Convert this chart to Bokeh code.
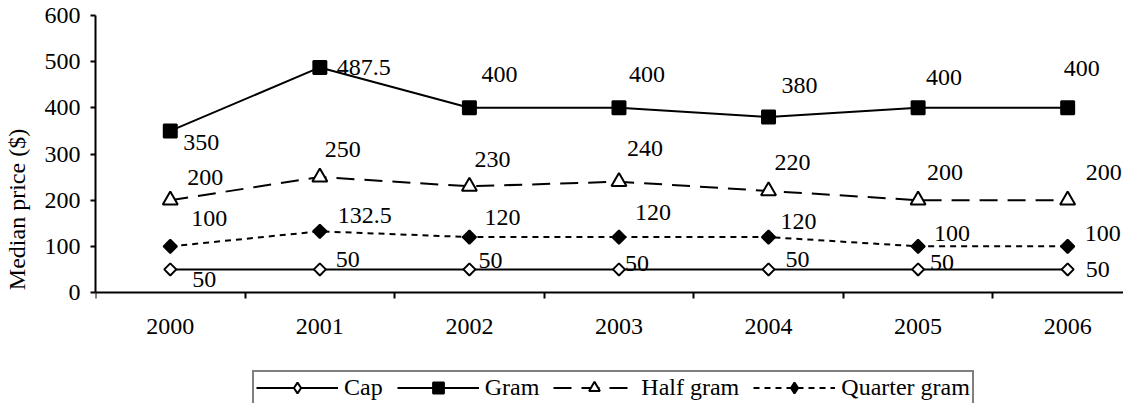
from bokeh.plotting import figure
from bokeh.models import (Range1d, FixedTicker, Legend, LegendItem, ColumnDataSource)
from bokeh.core.properties import value
from bokeh.embed import file_html
from bokeh.resources import INLINE
import numpy as np

years = [2000, 2001, 2002, 2003, 2004, 2005, 2006]
cap = [50, 50, 50, 50, 50, 50, 50]
gram = [350, 487.5, 400, 400, 380, 400, 400]
half_gram = [200, 250, 230, 240, 220, 200, 200]
quarter_gram = [100, 132.5, 120, 120, 120, 100, 100]
y_ticks = [0, 100, 200, 300, 400, 500, 600]

# label offsets (screen px) - styling only
gram_dx = [13, 17, 12, 10, 13, 8, -4]
gram_dy = [12, 0, -33, -33, -32, -30, -39]
half_dx = [17, 5, 5, 8, 6, 9, 18]
half_dy = [-23, -28, -27, -33, -28, -28, -28]
quarter_dx = [21, 18, 15, 16, 12, 16, 17]
quarter_dy = [-28, -16, -20, -25, -16, -13, -13]
cap_dx = [22, 16, 9, 6, 17, 12, 18]
cap_dy = [10, -10, -9, -6, -10, -7, 0]

FONT = "Liberation Serif"
FS = "24px"

W, H = 1123, 403
left, top = 92, 15
frame_w = W - left
frame_h = H - top
px_per_cat = 150.0
px_per_unit = 277.0 / 600.0
y_top = 600.0
y_bottom = y_top - frame_h / px_per_unit

p = figure(width=W, height=H, output_backend="svg", toolbar_location=None,
           x_range=Range1d(1999.5, 1999.5 + frame_w / px_per_cat),
           y_range=Range1d(y_bottom, y_top),
           min_border_left=left, min_border_right=0,
           min_border_top=top, min_border_bottom=0)
p.outline_line_color = None
p.xgrid.visible = False
p.ygrid.visible = False
p.background_fill_color = "white"
p.border_fill_color = "white"

xa = p.xaxis[0]
xa.fixed_location = 0
xa.ticker = FixedTicker(ticks=years, minor_ticks=[y - 0.5 for y in years] + [years[-1] + 0.5])
xa.major_tick_out = 0
xa.major_tick_in = 0
xa.minor_tick_out = 6
xa.minor_tick_in = 0
xa.minor_tick_line_width = 2
xa.minor_tick_line_color = "black"
xa.axis_line_width = 2
xa.axis_line_color = "black"
xa.major_label_standoff = 20
xa.major_label_text_font = FONT
xa.major_label_text_font_size = FS
xa.major_label_text_font_style = "normal"
xa.major_label_text_color = "black"

ya = p.yaxis[0]
ya.bounds = (0, 600)
ya.ticker = FixedTicker(ticks=y_ticks, minor_ticks=[])
ya.major_tick_out = 5
ya.major_tick_in = 0
ya.major_tick_line_width = 2
ya.major_tick_line_color = "black"
ya.axis_line_width = 2
ya.axis_line_color = "black"
ya.major_label_standoff = 10
ya.major_label_text_font = FONT
ya.major_label_text_font_size = FS
ya.major_label_text_font_style = "normal"
ya.major_label_text_color = "black"
ya.axis_label = "Median price ($)"
ya.axis_label_text_font = FONT
ya.axis_label_text_font_size = FS
ya.axis_label_text_font_style = "normal"
ya.axis_label_text_color = "black"
ya.axis_label_standoff = 12

items = []
nan = [float("nan")]

def series(label, vals, dash, marker, fill, size, angle, dx, dy, leg_marker):
    src = ColumnDataSource(dict(x=years, y=vals, t=[("%g" % v) for v in vals], dx=dx, dy=dy))
    ln = p.line("x", "y", source=src, line_color="black", line_width=2, line_dash=dash)
    p.scatter("x", "y", source=src, marker=marker, size=size, angle=angle,
              fill_color=fill, line_color="black", line_width=2)
    p.text("x", "y", text="t", source=src, x_offset="dx", y_offset="dy",
           text_font=value(FONT), text_font_size=FS, text_font_style="normal",
           text_color="black", text_align="left", text_baseline="middle")
    lg = p.scatter(x=nan, y=nan, marker=leg_marker, size=size,
                   fill_color=fill, line_color="black", line_width=2)
    items.append(LegendItem(label=label, renderers=[ln, lg]))

series("Cap", cap, "solid", "square", "white", 8.5, np.pi / 4, cap_dx, cap_dy, "diamond")
series("Gram", gram, "solid", "square", "black", 13, 0, gram_dx, gram_dy, "square")
series("Half gram", half_gram, "18 10", "triangle", "white", 15, 0, half_dx, half_dy, "triangle")
series("Quarter gram", quarter_gram, "6 5", "square", "black", 9.5, np.pi / 4, quarter_dx, quarter_dy, "diamond")

legend = Legend(items=items, orientation="horizontal", location=(157, -2),
                label_text_font=FONT, label_text_font_size=FS, label_text_font_style="normal",
                label_text_color="black",
                glyph_width=82, glyph_height=27, label_height=24, label_standoff=6,
                spacing=14, padding=2, margin=0,
                border_line_color="black", border_line_width=2,
                background_fill_color="white", background_fill_alpha=1.0)
p.add_layout(legend, "center")

open("out.html", "w").write(file_html(p, INLINE))
